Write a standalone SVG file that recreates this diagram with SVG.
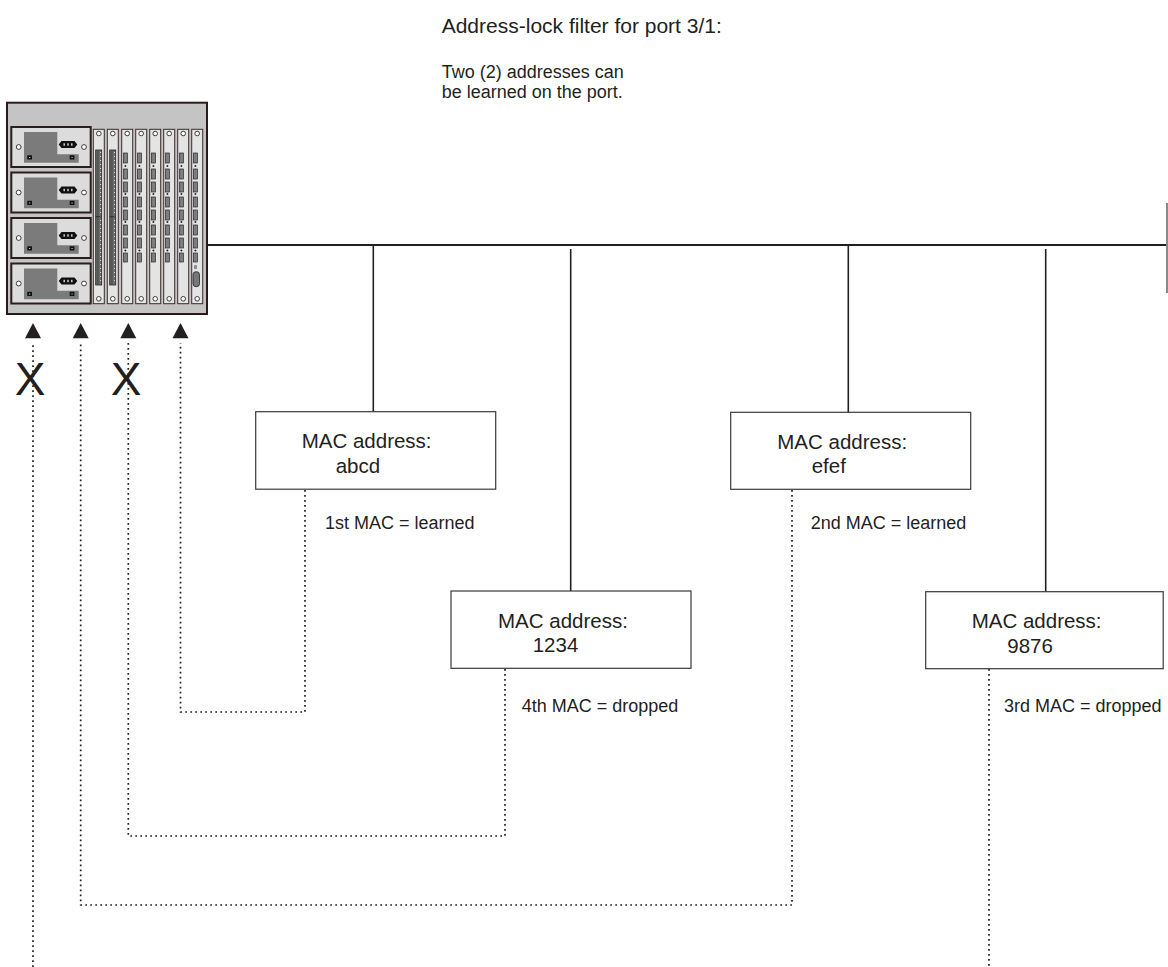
<svg xmlns="http://www.w3.org/2000/svg" xmlns:xlink="http://www.w3.org/1999/xlink" width="1168" height="967" viewBox="0 0 1168 967">
<style>
  text { font-family: "Liberation Sans", Arial, Helvetica, sans-serif; fill: #231f20; }
  .title { font-size: 21px; }
  .sub { font-size: 18px; }
  .mac { font-size: 20.5px; }
  .lbl { font-size: 18px; }
  .x { font-size: 46px; }
  .box { fill: #ffffff; stroke: #3a3a3a; stroke-width: 1.2; }
  .bus { stroke: #231f20; stroke-width: 2.2; fill: none; }
  .drop { stroke: #231f20; stroke-width: 1.6; fill: none; }
  .dot { stroke: #231f20; stroke-width: 1.7; fill: none; stroke-dasharray: 1.7 3.3; }
  .mod { fill: #e4e4e4; stroke: #3b2b2b; stroke-width: 1; }
  .hole { fill: #ffffff; stroke: #2a2a2a; stroke-width: 0.9; }
  .port { fill: #7d7d7d; stroke: #2a2a2a; stroke-width: 0.7; }
</style>
<defs>
  <marker id="arr" viewBox="0 0 16 16" refX="8" refY="1" markerWidth="16" markerHeight="16" markerUnits="userSpaceOnUse" orient="auto-start-reverse">
    <path d="M0,16 L8,0 L16,16 Z" fill="#231f20"/>
  </marker>
  <g id="psu">
    <rect x="11.3" y="127" width="79.4" height="40" fill="#dcdcdc" stroke="#2b1d1d" stroke-width="2"/>
    <path d="M24,132 H57.3 V154.3 H78.7 V162.7 H24 Z" fill="#7b7b7b"/>
    <rect x="27.3" y="155.3" width="4.7" height="4.2" fill="#111"/>
    <rect x="29" y="157" width="1.3" height="1" fill="#bbb"/>
    <rect x="69.7" y="155.3" width="4.7" height="4.2" fill="#111"/>
    <rect x="71.4" y="157" width="1.3" height="1" fill="#bbb"/>
    <path d="M58.7,144.5 L61.5,141 H74.5 L77.3,144.5 L74.5,148 H61.5 Z" fill="#111"/>
    <rect x="63.5" y="143.3" width="1.4" height="2.4" fill="#ddd"/>
    <rect x="67.3" y="143.3" width="1.4" height="2.4" fill="#ddd"/>
    <rect x="71.1" y="143.3" width="1.4" height="2.4" fill="#ddd"/>
    <circle cx="18.7" cy="147" r="2.4" class="hole"/>
    <circle cx="84" cy="147" r="2.4" class="hole"/>
  </g>
  <g id="slot">
    <rect x="0" y="129.3" width="11" height="174.4" class="mod"/>
    <circle cx="5.5" cy="133.5" r="2.3" class="hole"/>
    <circle cx="5.5" cy="298.8" r="2.3" class="hole"/>
  </g>
  <g id="ports">
    <rect x="1.7" y="153" width="4" height="10" class="port"/>
    <rect x="1.7" y="169" width="4" height="10" class="port"/>
    <rect x="1.7" y="182" width="4" height="10" class="port"/>
    <rect x="1.7" y="197" width="4" height="10" class="port"/>
    <rect x="1.7" y="210" width="4" height="10" class="port"/>
    <rect x="1.7" y="225" width="4" height="10" class="port"/>
    <rect x="1.7" y="238" width="4" height="10" class="port"/>
    <rect x="1.7" y="253" width="4" height="9" class="port"/>
    <path d="M2.7,166 H4.7 M3.7,165 V167 M2.7,194 H4.7 M3.7,193 V195 M2.7,222 H4.7 M3.7,221 V223 M2.7,250.5 H4.7 M3.7,249.5 V251.5" stroke="#111" stroke-width="0.8"/>
  </g>
  <g id="strip">
    <rect x="2.4" y="150" width="6" height="135" fill="#6e6e6e" stroke="#222" stroke-width="0.8"/>
    <rect x="3.2" y="151" width="2.3" height="133" fill="#555"/>
    <line x1="7.3" y1="152" x2="7.3" y2="283" stroke="#ffffff" stroke-width="0.8" stroke-dasharray="1 3"/>
    <line x1="2.4" y1="216.7" x2="8.4" y2="216.7" stroke="#222" stroke-width="0.8"/>
  </g>
</defs>

<g id="chassis">
  <rect x="7" y="102.7" width="200" height="211.3" fill="#c4c4c4" stroke="#2b1a1a" stroke-width="2"/>
  <use xlink:href="#psu"/>
  <use xlink:href="#psu" transform="translate(0,45.5)"/>
  <use xlink:href="#psu" transform="translate(0,91)"/>
  <use xlink:href="#psu" transform="translate(0,136.5)"/>
  <g transform="translate(93.3,0)"><use xlink:href="#slot"/><use xlink:href="#strip"/></g>
  <g transform="translate(107.3,0)"><use xlink:href="#slot"/><use xlink:href="#strip"/></g>
  <g transform="translate(121.7,0)"><use xlink:href="#slot"/><use xlink:href="#ports"/></g>
  <g transform="translate(135.7,0)"><use xlink:href="#slot"/><use xlink:href="#ports"/></g>
  <g transform="translate(149.7,0)"><use xlink:href="#slot"/><use xlink:href="#ports"/></g>
  <g transform="translate(163.7,0)"><use xlink:href="#slot"/><use xlink:href="#ports"/></g>
  <g transform="translate(177.7,0)"><use xlink:href="#slot"/><use xlink:href="#ports"/></g>
  <g transform="translate(191.7,0)">
    <use xlink:href="#slot"/><use xlink:href="#ports"/>
    <path d="M2.3,266 H5.3 M2.3,268 H5.3" stroke="#111" stroke-width="0.8"/>
    <rect x="1.3" y="271.7" width="6.5" height="15" rx="3" fill="#777" stroke="#222" stroke-width="0.8"/>
  </g>
</g>

<g id="title">
  <text class="title" x="441.7" y="32.7">Address-lock filter for port 3/1:</text>
  <text class="sub" x="441.7" y="78.3">Two (2) addresses can</text>
  <text class="sub" x="441.7" y="98.3">be learned on the port.</text>
</g>

<g id="connectors">
  <line class="bus" x1="207" y1="245" x2="1166" y2="245"/>
  <line x1="1167" y1="203" x2="1167" y2="293" stroke="#8a8a8a" stroke-width="2"/>
  <line class="drop" x1="373.3" y1="245" x2="373.3" y2="411.7"/>
  <line class="drop" x1="848.3" y1="245" x2="848.3" y2="412.3"/>
  <line class="drop" x1="570.7" y1="249" x2="570.7" y2="591"/>
  <line class="drop" x1="1045.7" y1="249" x2="1045.7" y2="591.7"/>
  <path class="dot" d="M305,490 V712 H180.5 V343"/>
  <path class="dot" d="M505,669 V836 H128.3 V343"/>
  <path class="dot" d="M792,490 V905 H80.7 V343"/>
  <path class="dot" d="M989,669 V967"/>
  <path class="dot" d="M33,967 V343"/>
  <path d="M172.5,338.3 L180.5,323 L188.5,338.3 Z" fill="#231f20"/>
  <path d="M120.3,338.3 L128.3,323 L136.3,338.3 Z" fill="#231f20"/>
  <path d="M72.7,338.3 L80.7,323 L88.7,338.3 Z" fill="#231f20"/>
  <path d="M25,338.3 L33,323 L41,338.3 Z" fill="#231f20"/>
  <text class="x" x="30" y="395" text-anchor="middle">X</text>
  <text class="x" x="126" y="395" text-anchor="middle">X</text>
</g>

<g id="node-abcd">
  <rect class="box" x="255.7" y="411.7" width="240" height="77.5"/>
  <text class="mac" x="301.7" y="448.2">MAC address:</text>
  <text class="mac" x="335.7" y="472.7">abcd</text>
  <text class="lbl" x="325" y="529.3">1st MAC = learned</text>
</g>
<g id="node-efef">
  <rect class="box" x="730.7" y="412.3" width="240" height="77"/>
  <text class="mac" x="777.3" y="448.8">MAC address:</text>
  <text class="mac" x="811.7" y="473.3">efef</text>
  <text class="lbl" x="810.7" y="529.3">2nd MAC = learned</text>
</g>
<g id="node-1234">
  <rect class="box" x="451" y="591" width="240" height="77.3"/>
  <text class="mac" x="498" y="627.5">MAC address:</text>
  <text class="mac" x="532.7" y="652">1234</text>
  <text class="lbl" x="521.7" y="711.7">4th MAC = dropped</text>
</g>
<g id="node-9876">
  <rect class="box" x="925.7" y="591.7" width="237.5" height="77"/>
  <text class="mac" x="971.7" y="628.2">MAC address:</text>
  <text class="mac" x="1007.3" y="652.7">9876</text>
  <text class="lbl" x="1004" y="711.7">3rd MAC = dropped</text>
</g>
</svg>
